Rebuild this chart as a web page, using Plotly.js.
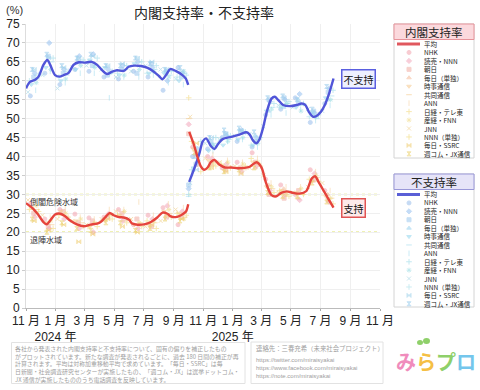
<!DOCTYPE html>
<html><head><meta charset="utf-8">
<script src="https://cdn.plot.ly/plotly-3.0.1.min.js"></script>
<style>html,body{margin:0;padding:0;background:#fff;}#chart{width:480px;height:390px;}</style>
</head><body><div id="chart"></div>
<script>
// ---------------- data ----------------
const pollsters = ['NHK','読売・NNN','朝日','毎日（単独）','時事通信','共同通信','ANN','日経・テレ東','産経・FNN','JNN','NNN（単独）','毎日・SSRC','週コム・JX通信'];
const pollDays = ['10','19','17','16','12','24','21','27','22','05','08','18','14'];
const months = ['2023-11','2023-12','2024-01','2024-02','2024-03','2024-04','2024-05','2024-06','2024-07','2024-08','2024-09','2024-10','2024-11','2024-12','2025-01','2025-02','2025-03','2025-04','2025-05','2025-06','2025-07'];

const apNHK      = [27.5,23.5,26,24.8,23.8,24,26,22,24.5,26.5,22, 42.5,40,37,38.5,41,34,32.5,30,36.5,31];
const apYomiuri  = [24,21,23.5,21,20,24.8,23,21,23.5,27,25.5, 38,39.5,38,36,37.5,31,30,28.5,35.5,28];
const apAsahi    = [25,21.5,25.5,22.5,23,24,25,23.5,21.5,24,24, 40.5,38,36.5,37,38.5,30,29,31,34,28.5];
const apMainichi = [null,null,null,null,null,null,null,null,null,null,null, null,null,null,null,37,32.5,31.5,29,33.5,30];
const apJiji     = [26.5,22.5,25.5,23,21.5,23,24.5,22,22,25.5,25, 42,39,37.5,37,38.5,32,31,30.5,33.5,29.5];
const apKyodo    = [26,22,24,22.5,22.5,25,23,22.5,22.5,25,24, 37.5,38.5,37.5,36.5,38,31.5,30.5,30,34.5,29];
const apANN      = [28,24,26.5,24,23.5,26,26,28,24.5,27.5,26.5, 39.5,40.5,39,38.5,39.5,33,32,32,36,31];
const apNikkei   = [25.5,21,24,21.5,21.5,23.5,22.5,21.5,21,24,24.5, 36,37.5,37,37.5,37.5,30.5,29.5,30,33.5,27.5];
const apSankei   = [27,23,25,23.5,22.5,24.5,25.5,22.5,23,26,23.5, 41,38,38.5,38,38.5,32,30,31.5,35,29];
const apJNN      = [28.5,24.5,23.5,23,22,23.5,25.5,23.5,21.5,23,26, 50.5,39.5,38.5,37.5,37,35,30.5,30.5,32,33];
const apNNN      = [26,null,24.5,null,21.5,null,24.5,null,23,null,25, 44,null,38,null,39.5,null,31,null,34,null];
const apSSRC     = [23,20.5,22,17.5,19.5,23.5,21.5,20,22,24.5,23.5, 43.5,37,36,35.5,null,null,null,null,null,null];
const apJX       = [23.5,20,22.5,21,20.5,22.5,22.5,20.5,21,23.5,23, 41,37,36,36.5,37,30.5,29.5,29.5,33,28];

const dsNHK      = [56,62,59,63,62.5,61,60.5,62.5,61,57.5,63.5, 40,42,45,44,42.5,51,52.5,55.5,49,54];
const dsYomiuri  = [62,70,63,66.5,67,63,64,65,63.5,60,62, 42,43,45.5,47,45,54.5,55,56.5,51.5,58];
const dsAsahi    = [61,66.5,62,65,64,61.5,63,62,64.5,62.5,61, 38,44,46,46.5,44,55,55.5,54,52,57];
const dsMainichi = [null,null,null,null,null,null,null,null,null,null,null, null,null,null,null,45.5,52,53,55,51,55];
const dsJiji     = [59,63.5,60,63,65.5,63.5,61.5,64.5,62,62,60, 37,41.5,43,44.5,43,52,53.5,53,51.5,55.5];
const dsKyodo    = [60.5,65,61.5,65,64,62,63,64,63,61.5,62, 42.5,43.5,44.5,46,44.5,53,54,53.5,50,56];
const dsANN      = [57.5,62.5,59.5,62,62,55.5,61,61,61.5,59.5,59, 40.5,41.5,44,44.5,42.5,51,51.5,52.5,49.5,53.5];
const dsNikkei   = [61.5,66,62.5,65.5,66,62.5,64,65,64,62.5,61.5, 44,45,45.5,46.5,45,54,54.5,54,51,57.5];
const dsSankei   = [59.5,63,60.5,64,63.5,62,61.5,63,62.5,61,62.5, 39,43,44,45,43.5,52.5,54,52,50.5,55];
const dsJNN      = [57,61.5,58,63.5,64,63,61,62.5,64,63,60.5, 33,43.5,44.5,45.5,46,48,53.5,53,52.5,52];
const dsNNN      = [60,null,61,null,65,null,62,null,62,null,61, 36.5,null,44.5,null,43,null,53,null,50.5,null];
const dsSSRC     = [63,66,63.5,66,66.5,64,64.5,66,65,63,62.5, 36.5,45,46,47,null,null,null,null,null,null];
const dsJX       = [63,67,64,66,67,64,64,66,64.5,63,63.5, 40,45,47,47.5,46.5,55.5,56,55,52.5,58.5];

// polls taken right at the start of the new cabinet
const launchDate = '2024-10-02';
const launchPollsterIdx = [1,2,5,7];
const launchAp = [48.5,46.0,50.0,55.5];
const launchDs = [31.5,32.5,29.5,30.0];

// averages (symmetric weighted moving average), two cabinets
const avgApDates1 = ['2023-11-01','2023-11-16','2023-11-27','2023-12-07','2023-12-14','2023-12-21','2023-12-31','2024-01-11','2024-01-21','2024-01-31','2024-02-14','2024-02-28','2024-03-13','2024-03-27','2024-04-03','2024-04-13','2024-04-22','2024-04-30','2024-05-11','2024-05-21','2024-06-01','2024-06-07','2024-06-18','2024-07-02','2024-07-16','2024-07-29','2024-08-09','2024-08-19','2024-08-26','2024-09-05','2024-09-16','2024-09-26','2024-10-01'];
const avgAp1 = [27.7,26.2,24.5,22.7,22.1,23.1,24.7,24.9,24.2,23.1,22.1,21.6,22.0,22.3,22.7,24.0,25.1,24.5,24.0,23.9,23.3,22.3,22.0,22.1,22.7,23.9,25.2,24.9,24.2,24.0,24.5,25.4,27.4];
const avgDsDates1 = ['2023-11-01','2023-11-09','2023-11-20','2023-11-27','2023-12-07','2023-12-15','2023-12-21','2023-12-31','2024-01-09','2024-01-18','2024-01-28','2024-02-07','2024-02-18','2024-03-02','2024-03-16','2024-03-27','2024-04-06','2024-04-16','2024-04-27','2024-05-07','2024-05-21','2024-05-31','2024-06-11','2024-06-25','2024-07-09','2024-07-22','2024-08-02','2024-08-09','2024-08-16','2024-08-25','2024-09-05','2024-09-19','2024-09-26','2024-10-01'];
const avgDs1 = [58.0,59.7,60.3,61.1,64.2,65.5,64.2,61.5,61.1,61.5,62.1,64.2,64.9,64.8,65.0,64.2,62.8,61.8,62.4,62.8,62.6,63.7,64.0,63.9,63.4,62.4,61.2,60.4,61.5,63.1,62.6,61.5,60.6,58.9];
const avgApDates2 = ['2024-10-03','2024-10-13','2024-10-20','2024-10-27','2024-11-03','2024-11-10','2024-11-17','2024-11-24','2024-12-04','2024-12-16','2024-12-29','2025-01-11','2025-01-25','2025-02-05','2025-02-19','2025-03-01','2025-03-11','2025-03-22','2025-04-01','2025-04-11','2025-04-22','2025-05-06','2025-05-19','2025-06-02','2025-06-13','2025-06-20','2025-06-27','2025-07-07','2025-07-17','2025-07-28'];
const avgAp2 = [46.5,43.0,39.9,37.4,36.5,37.1,38.6,39.1,37.9,37.1,37.1,36.9,37.0,37.3,38.5,37.2,32.9,29.8,29.5,30.4,30.8,30.4,30.2,30.9,34.2,34.8,33.3,31.1,28.9,26.5];
const avgDsDates2 = ['2024-10-03','2024-10-17','2024-10-24','2024-10-31','2024-11-07','2024-11-17','2024-11-24','2024-12-01','2024-12-11','2024-12-29','2025-01-15','2025-01-29','2025-02-05','2025-02-12','2025-02-19','2025-02-25','2025-03-05','2025-03-13','2025-03-22','2025-03-29','2025-04-05','2025-04-15','2025-04-29','2025-05-13','2025-05-23','2025-05-31','2025-06-07','2025-06-16','2025-06-23','2025-07-02','2025-07-10','2025-07-19','2025-07-28'];
const avgDs2 = [33.3,38.1,40.8,44.0,44.8,42.7,42.0,43.2,44.6,45.2,45.8,46.4,45.8,44.2,43.5,44.5,47.8,52.2,55.3,55.8,54.9,53.6,53.3,53.6,54.0,53.6,51.8,50.5,50.7,51.8,53.6,56.7,60.6];

const dangerLevel = 30, resignLevel = 20;
const tickVals = ['2023-11-01','2024-01-01','2024-03-01','2024-05-01','2024-07-01','2024-09-01','2024-11-01','2025-01-01','2025-03-01','2025-05-01','2025-07-01','2025-09-01','2025-11-01'];
const tickText = ['11 月','1 月<br>2024 年','3 月','5 月','7 月','9 月','11 月','1 月<br>2025 年','3 月','5 月','7 月','9 月','11 月'];

// ---------------- styling ----------------
const symbols = ['circle','diamond','square','triangle-up','triangle-down','line-ew','line-ns','cross-thin','asterisk','x-thin','cross-thin','bowtie','hourglass'];
const apColors = ['#f5a9b4','#f4adc0','#f2b3aa','#f6bfa0','#f7cc94','#f6c98a','#f8d6a8','#f3da7e','#f1dc86','#f3d088','#f2da78','#f1cf74','#edd474'];
const dsColors = ['#9fc2ee','#9ec6f2','#a3ccf0','#9dd4f0','#9ad9f0','#a2dcef','#a8e0f2','#9cdbe9','#99dde4','#a3d6e6','#a9e0ea','#a2d4ec','#9fcfee'];
const RED = '#e5443c', BLUE = '#5055d8';
const FONT = 'Liberation Sans, Arial, Noto Sans CJK JP, sans-serif';
const JFONT = 'Noto Sans CJK JP, sans-serif';

const W = 480, H = 390, ML = 26, MR = 2, MT = 24, MB = 82;
const PX = x => (x - ML) / (W - ML - MR);
const PY = y => (H - MB - y) / (H - MT - MB);

const apArrays = [apNHK,apYomiuri,apAsahi,apMainichi,apJiji,apKyodo,apANN,apNikkei,apSankei,apJNN,apNNN,apSSRC,apJX];
const dsArrays = [dsNHK,dsYomiuri,dsAsahi,dsMainichi,dsJiji,dsKyodo,dsANN,dsNikkei,dsSankei,dsJNN,dsNNN,dsSSRC,dsJX];

const traces = [];
function pollTrace(i, arr, launchVals, color) {
  const x = months.map(m => m + '-' + pollDays[i]);
  const y = arr.slice();
  const k = launchPollsterIdx.indexOf(i);
  if (k >= 0) { x.push(launchDate); y.push(launchVals[k]); }
  return {type:'scatter', mode:'markers', x, y, showlegend:false, hoverinfo:'skip',
    marker:{symbol:symbols[i], size:4, color:color, opacity:0.6, line:{color:color, width:1}}};
}
pollsters.forEach((p,i) => {
  traces.push(pollTrace(i, dsArrays[i], launchDs, dsColors[i]));
  traces.push(pollTrace(i, apArrays[i], launchAp, apColors[i]));
});
const lineT = (x,y,c) => ({type:'scatter', mode:'lines', x, y, showlegend:false, hoverinfo:'skip',
  line:{color:c, width:2.4, shape:'spline', smoothing:0.8}});
traces.push(lineT(avgDsDates1, avgDs1, BLUE));
traces.push(lineT(avgDsDates2, avgDs2, BLUE));
traces.push(lineT(avgApDates1, avgAp1, RED));
traces.push(lineT(avgApDates2, avgAp2, RED));

// legend glyphs drawn on small helper axes
traces.push({type:'scatter', mode:'markers', xaxis:'x2', yaxis:'y2', x:pollsters.map(()=>0), y:pollsters,
  showlegend:false, hoverinfo:'skip',
  marker:{symbol:symbols, size:4, opacity:0.6, color:apColors, line:{color:apColors, width:1}}});
traces.push({type:'scatter', mode:'markers', xaxis:'x2', yaxis:'y3', x:pollsters.map(()=>0), y:pollsters,
  showlegend:false, hoverinfo:'skip',
  marker:{symbol:symbols, size:4, opacity:0.6, color:dsColors, line:{color:dsColors, width:1}}});

// ---------------- layout pieces ----------------
const shapes = [
  {type:'line', xref:'x domain', yref:'y', x0:0, x1:1, y0:dangerLevel, y1:dangerLevel, layer:'below', line:{color:'#dfe46a', width:1.5, dash:'dot'}},
  {type:'line', xref:'x domain', yref:'y', x0:0, x1:1, y0:resignLevel, y1:resignLevel, layer:'below', line:{color:'#dfe46a', width:1.5, dash:'dot'}},
];
const annotations = [
  {xref:'paper', yref:'paper', x:PX(4), y:PY(10), xanchor:'left', yanchor:'middle', text:'(%)', showarrow:false, font:{size:11, color:'#333', family:FONT}},
  {xref:'x', yref:'y', x:tickVals[0], y:dangerLevel, xanchor:'left', yanchor:'top', xshift:2, yshift:0, text:'倒閣危険水域', showarrow:false, font:{size:8, color:'#333', family:JFONT}},
  {xref:'x', yref:'y', x:tickVals[0], y:resignLevel, xanchor:'left', yanchor:'top', xshift:2, yshift:0, text:'退陣水域', showarrow:false, font:{size:8, color:'#333', family:JFONT}},
  {xref:'x', yref:'y', x:avgDsDates2[avgDsDates2.length-1], y:avgDs2[avgDs2.length-1], xanchor:'left', yanchor:'middle', xshift:7, text:'不支持', showarrow:false,
    font:{size:10, color:'#111', family:JFONT}, bgcolor:'#eef0ff', bordercolor:'#5a5fe0', borderwidth:1.5, borderpad:1},
  {xref:'x', yref:'y', x:avgApDates2[avgApDates2.length-1], y:avgAp2[avgAp2.length-1], xanchor:'left', yanchor:'middle', xshift:7, text:'支持', showarrow:false,
    font:{size:10, color:'#111', family:JFONT}, bgcolor:'#fdeaea', bordercolor:'#e05454', borderwidth:1.5, borderpad:1},
];

// legend boxes
const LEG_FS = 6.5, LEG_STEP = LEG_FS * 1.3;
function legendBox(top, bottom, titleBottom, title, fill, border, lineColor, avgRow) {
  shapes.push({type:'rect', xref:'paper', yref:'paper', x0:PX(394), x1:PX(474), y0:PY(bottom), y1:PY(top), layer:'below', fillcolor:'#ffffff', line:{color:'#d4d4d4', width:1}});
  shapes.push({type:'rect', xref:'paper', yref:'paper', x0:PX(394), x1:PX(474), y0:PY(titleBottom), y1:PY(top), layer:'below', fillcolor:fill, line:{color:border, width:1}});
  shapes.push({type:'line', xref:'paper', yref:'paper', x0:PX(397), x1:PX(420), y0:PY(avgRow), y1:PY(avgRow), layer:'below', line:{color:lineColor, width:3}});
  annotations.push({xref:'paper', yref:'paper', x:PX(434), y:PY((top+titleBottom)/2), xanchor:'center', yanchor:'middle', text:title, showarrow:false,
    borderpad:0, font:{size:11.5, color:'#222', family:JFONT}});
  const labels = ['平均'].concat(pollsters);
  annotations.push({xref:'paper', yref:'paper', x:PX(423), y:PY(avgRow + LEG_STEP*(labels.length-1)/2), xanchor:'left', yanchor:'middle', align:'left',
    borderpad:0, text:labels.join('<br>'), showarrow:false, font:{size:LEG_FS, color:'#222', family:JFONT}});
}
const AVG1 = 44, AVG2 = 194.5;
legendBox(24, 158, 39.5, '内閣支持率', '#fbd9dd', '#e6949b', '#e0585e', AVG1);
legendBox(174, 307, 189.5, '不支持率', '#e6e4f8', '#9a98d8', '#5a5fd6', AVG2);

// footer boxes
shapes.push({type:'rect', xref:'paper', yref:'paper', x0:PX(11.5), x1:PX(245), y0:PY(383.5), y1:PY(342.5), fillcolor:'#fff', line:{color:'#e2e2e2', width:1}});
shapes.push({type:'rect', xref:'paper', yref:'paper', x0:PX(251), x1:PX(383), y0:PY(383.5), y1:PY(342), fillcolor:'#fff', line:{color:'#e2e2e2', width:1}});
const noteLines = ['各社から発表された内閣支持率と不支持率について、固有の偏りを補正したもの',
  'がプロットされています。新たな調査が発表されるごとに、過去 180 日間の補正が再',
  '計算されます。平均は対称加重移動平均で求めています。「毎日・SSRC」は毎',
  '日新聞・社会調査研究センターが実施したもの、「週コム・JX」は選挙ドットコム・',
  'JX 通信が実施したもののうち電話調査を反映しています。'];
annotations.push({xref:'paper', yref:'paper', x:PX(14), y:PY(363.5), xanchor:'left', yanchor:'middle', align:'left', borderpad:0,
  text:noteLines.join('<br>'), showarrow:false, font:{size:5.9, color:'#a0a0a0', family:JFONT}});
annotations.push({xref:'paper', yref:'paper', x:PX(255), y:PY(348.5), xanchor:'left', yanchor:'middle', borderpad:0,
  text:'連絡先：三春充希（未来社会プロジェクト）', showarrow:false, font:{size:6.4, color:'#a0a0a0', family:JFONT}});
const urlLines = ['https://twitter.com/miraisyakai','https://www.facebook.com/miraisyakai','https://note.com/miraisyakai'];
annotations.push({xref:'paper', yref:'paper', x:PX(255), y:PY(368), xanchor:'left', yanchor:'middle', align:'left', borderpad:0,
  text:urlLines.join('<br>'), showarrow:false, font:{size:6, color:'#a0a0a0', family:FONT}});
// logo
annotations.push({xref:'paper', yref:'paper', x:PX(436), y:PY(361), xanchor:'center', yanchor:'middle', showarrow:false, borderpad:0,
  text:'<b><span style="color:#f08cbc">み</span><span style="color:#f5bf45">ら</span><span style="color:#8fd06a">プ</span><span style="color:#74c6ec">ロ</span></b>',
  font:{size:20, family:JFONT}});
shapes.push({type:'circle', xref:'paper', yref:'paper', x0:PX(417), x1:PX(423), y0:PY(345), y1:PY(340), fillcolor:'#8fd06a', line:{width:0}});
shapes.push({type:'circle', xref:'paper', yref:'paper', x0:PX(423), x1:PX(430), y0:PY(344), y1:PY(338), fillcolor:'#8fd06a', line:{width:0}});

const layout = {
  width:W, height:H, margin:{l:ML, r:MR, t:MT, b:MB}, paper_bgcolor:'#fff', plot_bgcolor:'#fff',
  font:{family:FONT, color:'#222'},
  title:{text:'内閣支持率・不支持率', x:PX(204), xref:'paper', xanchor:'center', y:1 - 13/H, yref:'container', yanchor:'middle',
    font:{size:14, color:'#222', family:JFONT}},
  xaxis:{type:'date', domain:[0, PX(380)], range:['2023-11-01','2025-11-01'], tickmode:'array', tickvals:tickVals, ticktext:tickText, tickangle:0,
    ticks:'outside', ticklen:2, tickcolor:'#aaa', showgrid:true, gridcolor:'#efefef', showline:true, linecolor:'#bbb', zeroline:false,
    tickfont:{size:12, color:'#222', family:FONT}},
  yaxis:{range:[0,75], tick0:0, dtick:5, ticks:'outside', ticklen:3, tickcolor:'#ccc', showgrid:true, gridcolor:'#efefef',
    showline:true, linecolor:'#ddd', zeroline:false, tickfont:{size:12, color:'#222', family:FONT}},
  xaxis2:{domain:[PX(404), PX(414)], range:[-1,1], visible:false, fixedrange:true, anchor:'y2'},
  yaxis2:{domain:[PY(AVG1 + LEG_STEP*13.5), PY(AVG1 + LEG_STEP*0.5)], type:'category', categoryarray:pollsters, range:[12.5,-0.5], visible:false, anchor:'x2'},
  yaxis3:{domain:[PY(AVG2 + LEG_STEP*13.5), PY(AVG2 + LEG_STEP*0.5)], type:'category', categoryarray:pollsters, range:[12.5,-0.5], visible:false, anchor:'x2'},
  shapes, annotations, showlegend:false
};
Plotly.newPlot('chart', traces, layout, {staticPlot:true, displayModeBar:false});
</script></body></html>
